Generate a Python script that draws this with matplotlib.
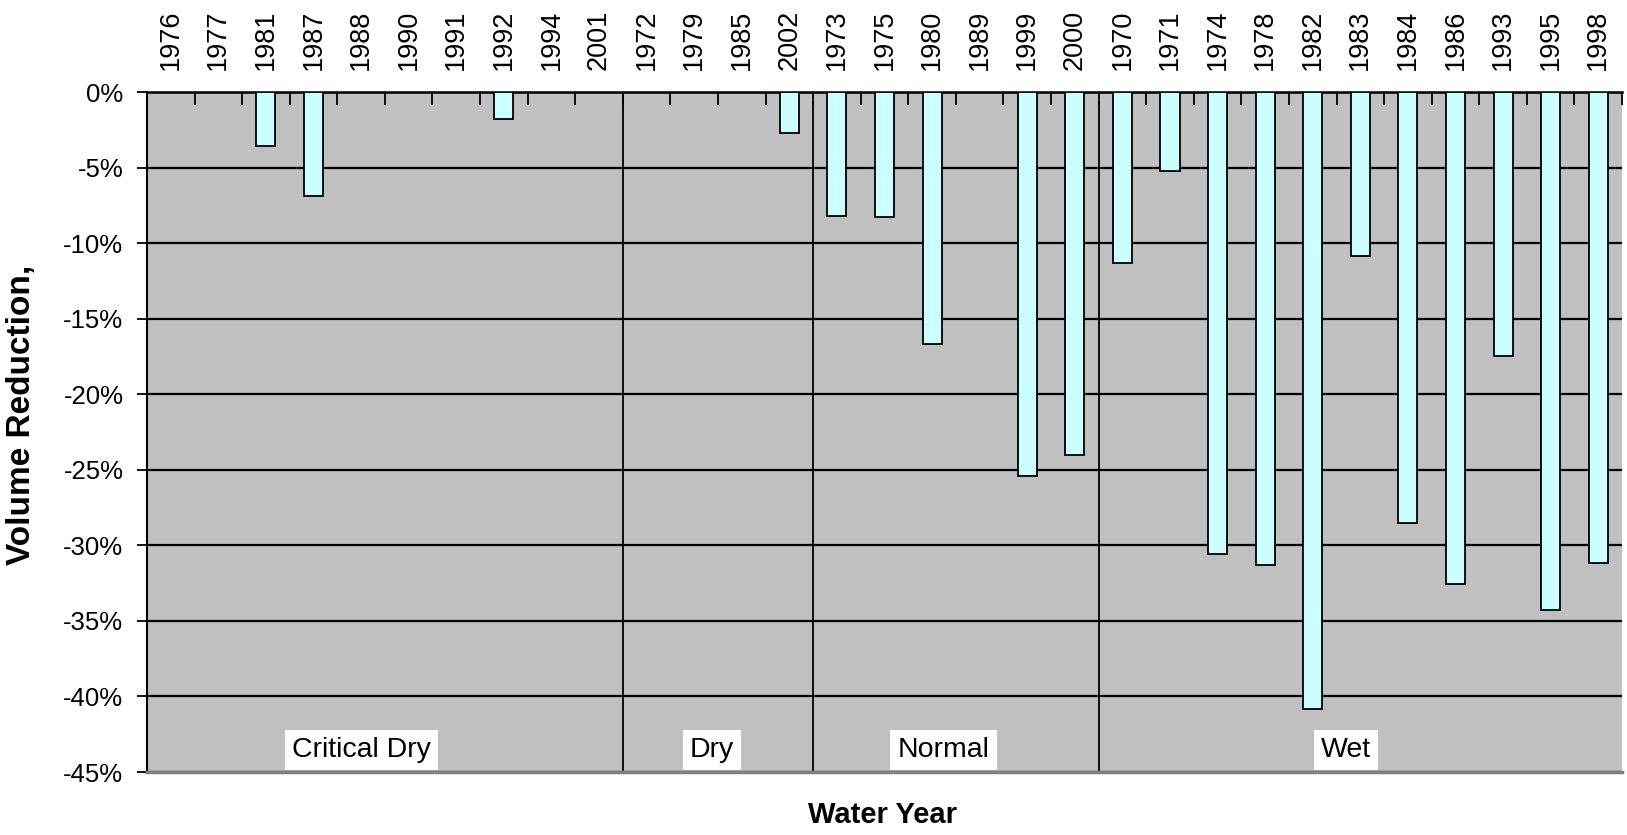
import matplotlib
matplotlib.use("Agg")
import matplotlib.pyplot as plt
from matplotlib.ticker import FixedLocator, FuncFormatter
import numpy as np

plt.rcParams['font.family'] = ['Liberation Sans', 'DejaVu Sans']

years = ['1976', '1977', '1981', '1987', '1988', '1990', '1991', '1992', '1994', '2001',
         '1972', '1979', '1985', '2002',
         '1973', '1975', '1980', '1989', '1999', '2000',
         '1970', '1971', '1974', '1978', '1982', '1983', '1984', '1986', '1993', '1995', '1998']
reduction = [0, 0, -3.6, -6.9, 0, 0, 0, -1.8, 0, 0,
             0, 0, 0, -2.7,
             -8.2, -8.3, -16.7, 0, -25.4, -24.0,
             -11.3, -5.2, -30.6, -31.3, -40.8, -10.85, -28.5, -32.55, -17.45, -34.25, -31.2]
group_names = ['Critical Dry', 'Dry', 'Normal', 'Wet']
group_sizes = [10, 4, 6, 11]
yticks = [0, -5, -10, -15, -20, -25, -30, -35, -40, -45]

fig = plt.figure(figsize=(16.27, 8.35), dpi=100)
ax = fig.add_axes([147/1627, 1-772/835, (1622-147)/1627, (772-92)/835])
ax.set_facecolor('#C0C0C0')

x = np.arange(len(years))
ax.bar(x, reduction, width=0.4, color='#CCFFFF', edgecolor='black', linewidth=1.3, zorder=3)

ax.set_xlim(-0.5, len(years) - 0.5)
ax.set_ylim(-45, 0)

# gridlines
ax.yaxis.set_major_locator(FixedLocator(yticks))
ax.grid(axis='y', color='black', linewidth=1.6, zorder=1)
ax.set_axisbelow(True)

# y tick labels
ax.yaxis.set_major_formatter(FuncFormatter(lambda v, p: f"{int(round(v))}%"))
ax.tick_params(axis='y', direction='out', length=7, width=1.3, labelsize=18.5, pad=10, colors='black')

# x axis on top
ax.xaxis.tick_top()
ax.set_xticks(x)
ax.set_xticklabels(years, rotation=90, fontsize=19.5)
ax.tick_params(axis='x', which='major', length=0, pad=16)
ax.set_xticks(np.arange(len(years) + 1) - 0.5, minor=True)
ax.tick_params(axis='x', which='minor', direction='in', length=9, width=1.3, top=True, bottom=False)

# spines
ax.spines['top'].set_color('black')
ax.spines['top'].set_linewidth(1.8)
ax.spines['left'].set_color('black')
ax.spines['left'].set_linewidth(1.5)
ax.spines['bottom'].set_color('#808080')
ax.spines['bottom'].set_linewidth(2.5)
ax.spines['right'].set_visible(False)

# group separators
bounds = np.cumsum(group_sizes)[:-1] - 0.5
tops = [1.0, 0.985, 0.985]
for b, t in zip(bounds, tops):
    ax.axvline(b, ymin=0, ymax=t, color='black', linewidth=1.3, zorder=2)

# group labels
label_pos = [4.0, 11.37, 16.24, 24.7]
for name, pos in zip(group_names, label_pos):
    ax.text(pos, -43.55, name, ha='center', va='center', fontsize=20.5, zorder=4,
            bbox=dict(boxstyle='square,pad=0.25', fc='white', ec='none'))

fig.text(22/1627, 1 - 415/835, 'Volume Reduction,', rotation=90, ha='center', va='center',
         fontsize=24, fontweight='bold')
fig.text(883/1627, 1 - 815/835, 'Water Year', ha='center', va='center',
         fontsize=21, fontweight='bold')

fig.savefig('out.png', dpi=100)
